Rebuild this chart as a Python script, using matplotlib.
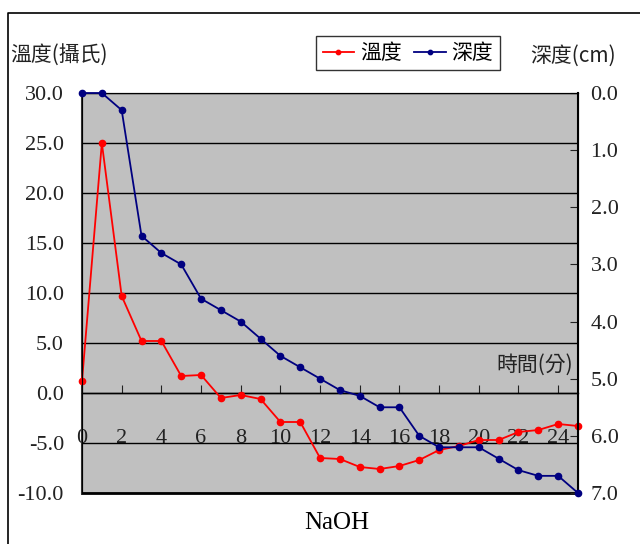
import matplotlib
matplotlib.use('Agg')
import matplotlib.pyplot as plt
from matplotlib.lines import Line2D

# data
minutes = list(range(26))
temperature = [1.2, 25.0, 9.7, 5.2, 5.2, 1.7, 1.8, -0.5, -0.2, -0.6,
               -2.9, -2.9, -6.5, -6.6, -7.4, -7.6, -7.3, -6.7, -5.7, -5.3,
               -4.7, -4.7, -3.9, -3.7, -3.1, -3.3]
depth = [0.0, 0.0, 0.3, 2.5, 2.8, 3.0, 3.6, 3.8, 4.0, 4.3,
         4.6, 4.8, 5.0, 5.2, 5.3, 5.5, 5.5, 6.0, 6.2, 6.2,
         6.2, 6.4, 6.6, 6.7, 6.7, 7.0]
temp_ticks = [-10, -5, 0, 5, 10, 15, 20, 25, 30]
depth_ticks = [0, 1, 2, 3, 4, 5, 6, 7]
x_ticks = list(range(0, 25, 2))

serif = ['Liberation Serif', 'Noto Sans CJK TC']
cjk = ['Noto Sans CJK TC', 'Liberation Serif']
plt.rcParams['font.family'] = serif

fig = plt.figure(figsize=(6.4, 5.44), dpi=100)
ax = fig.add_axes([82 / 640, 51 / 544, 496 / 640, 400 / 544])
ax.set_facecolor('#C0C0C0')

l1, = ax.plot(minutes, temperature, color='#FF0000', lw=1.3, marker='o', ms=4.5,
              clip_on=False, zorder=3)
ax.set_xlim(0, 25)
ax.set_ylim(-10, 30)
ax.set_yticks(temp_ticks)
ax.set_yticklabels([f'{v:.1f}' for v in temp_ticks])
ax.yaxis.grid(True, color='black', lw=1)
ax.set_axisbelow(True)
ax.tick_params(axis='y', length=0, pad=13, labelsize=16, colors='#222222')

# x axis crosses at 0 degrees
ax.spines['bottom'].set_position(('data', 0))
ax.spines['bottom'].set_linewidth(1)
ax.axhline(-10, color='black', lw=2, clip_on=False)
ax.set_xticks(x_ticks)
ax.tick_params(axis='x', direction='in', length=6, pad=26, labelsize=16,
               colors='#222222')
for s in ['top', 'right', 'left']:
    ax.spines[s].set_color('#333333')
ax.spines['left'].set_linewidth(1.5)

ax2 = ax.twinx()
l2, = ax2.plot(minutes, depth, color='#000080', lw=1.3, marker='o', ms=4.5,
               clip_on=False, zorder=3)
ax2.set_ylim(7, 0)
ax2.set_yticks(depth_ticks)
ax2.set_yticklabels([f'{v:.1f}' for v in depth_ticks])
ax2.tick_params(axis='y', direction='in', length=6, pad=9, labelsize=16,
                colors='#222222')
ax2.spines['right'].set_linewidth(1.5)
ax2.spines['bottom'].set_visible(False)

ax.text(0.99, 0.32, '時間(分)', transform=ax.transAxes, ha='right', va='center',
        fontsize=15, family=cjk, color='#222222')

fig.text(10 / 640, 1 - 56 / 544, '溫度(攝氏)', ha='left', va='center',
         fontsize=15, family=cjk, color='#222222')
fig.text(530 / 640, 1 - 56 / 544, '深度(cm)', ha='left', va='center',
         fontsize=15, family=cjk, color='#222222')
fig.text(337 / 640, 21 / 544, 'NaOH', ha='center', va='center', fontsize=18,
         color='black')

leg = fig.legend([l1, l2], ['溫度', '深度'], loc='center',
                 bbox_to_anchor=(408 / 640, 1 - 53 / 544), ncol=2,
                 prop={'family': cjk, 'size': 15}, frameon=True, fancybox=False,
                 edgecolor='black', handlelength=1.5, handletextpad=0.3,
                 columnspacing=0.6, borderpad=0.3, markerscale=0.7)
leg.get_frame().set_linewidth(1)

# outer chart frame
fig.add_artist(Line2D([8 / 640, 8 / 640, 1], [0, 1 - 13 / 544, 1 - 13 / 544],
                      transform=fig.transFigure, color='black', lw=1.2))

fig.savefig('out.png', dpi=100)
